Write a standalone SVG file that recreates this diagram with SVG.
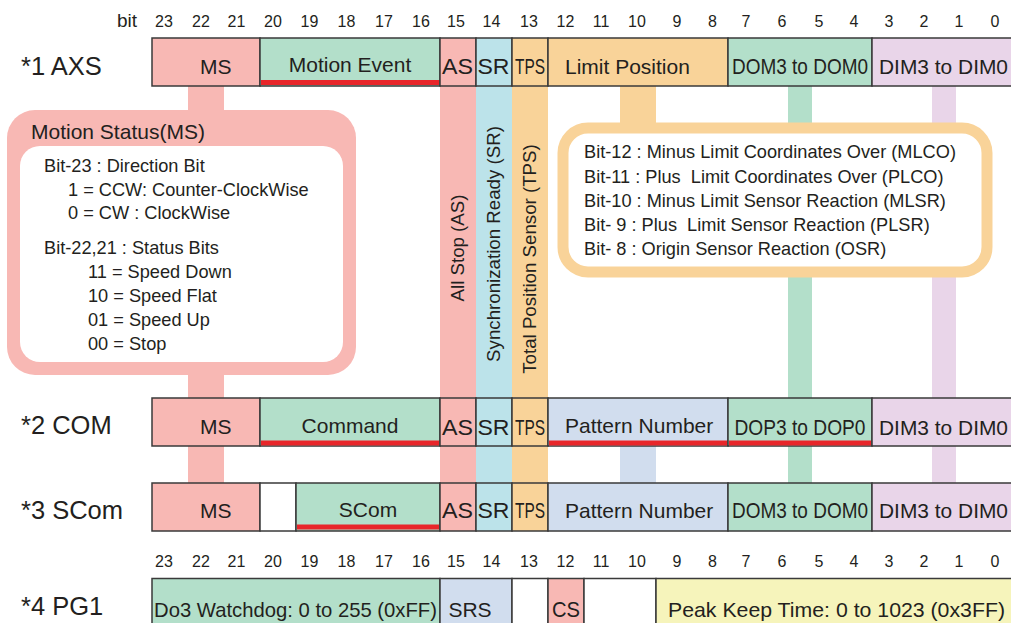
<svg xmlns="http://www.w3.org/2000/svg" width="1011" height="623" viewBox="0 0 1011 623">
<style>
text { font-family: "Liberation Sans", Arial, Helvetica, sans-serif; fill: #231f20; }
.bit { font-size: 16px; text-anchor: middle; }
.row { font-size: 25.5px; }
.f { font-size: 21px; }
.c { font-size: 22px; }
.m { text-anchor: middle; }
.v { font-size: 18.7px; text-anchor: middle; }
.d { font-size: 18.2px; }
.cell { stroke: #3a3a3a; stroke-width: 1.5; }
.pink { fill: #f8b8b4; }
.green { fill: #b3dfca; }
.blue { fill: #bce3ea; }
.orange { fill: #f9d399; }
.lav { fill: #e9d5e9; }
.pat { fill: #d1ddee; }
.yel { fill: #f6f4bb; }
.white { fill: #ffffff; }
.red { fill: #e8262a; }
</style>

<g id="connectors">
  <rect x="188" y="86" width="36" height="397" class="pink"/>
  <rect x="440" y="86" width="36" height="397" class="pink"/>
  <rect x="476" y="86" width="36" height="397" class="blue"/>
  <rect x="512" y="86" width="36" height="397" class="orange"/>
  <rect x="620" y="86" width="36" height="40" class="orange"/>
  <rect x="788" y="86" width="24" height="312" class="green"/>
  <rect x="932" y="86" width="24" height="312" class="lav"/>
  <rect x="620" y="446" width="36" height="37" class="pat"/>
  <rect x="788" y="446" width="24" height="37" class="green"/>
  <rect x="932" y="446" width="24" height="37" class="lav"/>
  <text class="v" transform="translate(464,248) rotate(-90)">All Stop (AS)</text>
  <text class="v" transform="translate(500,244) rotate(-90)">Synchronization Ready (SR)</text>
  <text class="v" transform="translate(536,259) rotate(-90)">Total Position Sensor (TPS)</text>
</g>

<g id="bit-header-top">
  <text x="127" y="27" style="font-size:19px;text-anchor:middle">bit</text>
  <text class="bit" x="164" y="27">23</text>
  <text class="bit" x="201" y="27">22</text>
  <text class="bit" x="236.5" y="27">21</text>
  <text class="bit" x="273" y="27">20</text>
  <text class="bit" x="309.5" y="27">19</text>
  <text class="bit" x="346.5" y="27">18</text>
  <text class="bit" x="384" y="27">17</text>
  <text class="bit" x="421" y="27">16</text>
  <text class="bit" x="456" y="27">15</text>
  <text class="bit" x="491.5" y="27">14</text>
  <text class="bit" x="529" y="27">13</text>
  <text class="bit" x="565.5" y="27">12</text>
  <text class="bit" x="601" y="27">11</text>
  <text class="bit" x="637" y="27">10</text>
  <text class="bit" x="677" y="27">9</text>
  <text class="bit" x="712.5" y="27">8</text>
  <text class="bit" x="746" y="27">7</text>
  <text class="bit" x="782" y="27">6</text>
  <text class="bit" x="819" y="27">5</text>
  <text class="bit" x="854" y="27">4</text>
  <text class="bit" x="889" y="27">3</text>
  <text class="bit" x="924" y="27">2</text>
  <text class="bit" x="959" y="27">1</text>
  <text class="bit" x="995" y="27">0</text>
</g>

<g id="row1-axs">
  <text class="row" x="21" y="75">*1 AXS</text>
  <rect class="cell pink" x="152" y="38" width="108" height="48"/>
  <rect class="cell green" x="260" y="38" width="180" height="48"/>
  <rect class="red" x="261" y="80" width="178" height="5"/>
  <rect class="cell pink" x="440" y="38" width="36" height="48"/>
  <rect class="cell blue" x="476" y="38" width="36" height="48"/>
  <rect class="cell orange" x="512" y="38" width="36" height="48"/>
  <rect class="cell orange" x="548" y="38" width="180" height="48"/>
  <rect class="cell green" x="728" y="38" width="144" height="48"/>
  <rect class="cell lav" x="872" y="38" width="144" height="48"/>
  <text class="f" x="200" y="74">MS</text>
  <text class="f m" x="350" y="71.5">Motion Event</text>
  <text class="c m" x="457.5" y="74" textLength="31" lengthAdjust="spacingAndGlyphs">AS</text>
  <text class="c m" x="493.5" y="74" textLength="32" lengthAdjust="spacingAndGlyphs">SR</text>
  <text class="c m" x="530" y="74" textLength="30" lengthAdjust="spacingAndGlyphs">TPS</text>
  <text class="f" x="565" y="74">Limit Position</text>
  <text class="c m" x="800" y="74" textLength="136" lengthAdjust="spacingAndGlyphs">DOM3 to DOM0</text>
  <text class="f" x="879" y="74" textLength="129" lengthAdjust="spacingAndGlyphs">DIM3 to DIM0</text>
</g>

<g id="motion-status">
  <rect x="7" y="110" width="349" height="265" rx="28" class="pink"/>
  <rect x="20" y="146" width="323" height="216" rx="20" class="white"/>
  <text x="31" y="139" style="font-size:21px">Motion Status(MS)</text>
  <text class="d" x="44" y="172">Bit-23 : Direction Bit</text>
  <text class="d" x="68" y="195.5">1 = CCW: Counter-ClockWise</text>
  <text class="d" x="68" y="218.5">0 = CW : ClockWise</text>
  <text class="d" x="44" y="254">Bit-22,21 : Status Bits</text>
  <text class="d" x="88" y="278">11 = Speed Down</text>
  <text class="d" x="88" y="302">10 = Speed Flat</text>
  <text class="d" x="88" y="326">01 = Speed Up</text>
  <text class="d" x="88" y="350">00 = Stop</text>
</g>

<g id="limit-position">
  <rect x="563" y="128" width="424" height="144" rx="25" class="white" stroke="#f9d399" stroke-width="11"/>
  <text class="d" x="584" y="158" xml:space="preserve">Bit-12 : Minus Limit Coordinates Over (MLCO)</text>
  <text class="d" x="584" y="182.5" xml:space="preserve">Bit-11 : Plus  Limit Coordinates Over (PLCO)</text>
  <text class="d" x="584" y="206.5" xml:space="preserve">Bit-10 : Minus Limit Sensor Reaction (MLSR)</text>
  <text class="d" x="584" y="230.5" xml:space="preserve">Bit- 9 : Plus  Limit Sensor Reaction (PLSR)</text>
  <text class="d" x="584" y="255" xml:space="preserve">Bit- 8 : Origin Sensor Reaction (OSR)</text>
</g>

<g id="row2-com">
  <text class="row" x="21" y="434">*2 COM</text>
  <rect class="cell pink" x="152" y="398" width="108" height="48"/>
  <rect class="cell green" x="260" y="398" width="180" height="48"/>
  <rect class="red" x="261" y="440.5" width="178" height="5"/>
  <rect class="cell pink" x="440" y="398" width="36" height="48"/>
  <rect class="cell blue" x="476" y="398" width="36" height="48"/>
  <rect class="cell orange" x="512" y="398" width="36" height="48"/>
  <rect class="cell pat" x="548" y="398" width="180" height="48"/>
  <rect class="red" x="549" y="440.5" width="178" height="5"/>
  <rect class="cell green" x="728" y="398" width="144" height="48"/>
  <rect class="red" x="729" y="440.5" width="142" height="5"/>
  <rect class="cell lav" x="872" y="398" width="144" height="48"/>
  <text class="f" x="200" y="434">MS</text>
  <text class="f m" x="350" y="432.5">Command</text>
  <text class="c m" x="457.5" y="435" textLength="31" lengthAdjust="spacingAndGlyphs">AS</text>
  <text class="c m" x="493.5" y="435" textLength="32" lengthAdjust="spacingAndGlyphs">SR</text>
  <text class="c m" x="530" y="435" textLength="30" lengthAdjust="spacingAndGlyphs">TPS</text>
  <text class="f" x="565" y="433">Pattern Number</text>
  <text class="c m" x="800" y="435" textLength="131" lengthAdjust="spacingAndGlyphs">DOP3 to DOP0</text>
  <text class="f" x="879" y="435" textLength="129" lengthAdjust="spacingAndGlyphs">DIM3 to DIM0</text>
</g>

<g id="row3-scom">
  <text class="row" x="21" y="519">*3 SCom</text>
  <rect class="cell pink" x="152" y="483" width="108" height="48"/>
  <rect class="cell white" x="260" y="483" width="36" height="48"/>
  <rect class="cell green" x="296" y="483" width="144" height="48"/>
  <rect class="red" x="297" y="524.5" width="142" height="5"/>
  <rect class="cell pink" x="440" y="483" width="36" height="48"/>
  <rect class="cell blue" x="476" y="483" width="36" height="48"/>
  <rect class="cell orange" x="512" y="483" width="36" height="48"/>
  <rect class="cell pat" x="548" y="483" width="180" height="48"/>
  <rect class="cell green" x="728" y="483" width="144" height="48"/>
  <rect class="cell lav" x="872" y="483" width="144" height="48"/>
  <text class="f" x="200" y="518">MS</text>
  <text class="f m" x="368" y="516.5">SCom</text>
  <text class="c m" x="457.5" y="518" textLength="31" lengthAdjust="spacingAndGlyphs">AS</text>
  <text class="c m" x="493.5" y="518" textLength="32" lengthAdjust="spacingAndGlyphs">SR</text>
  <text class="c m" x="530" y="518" textLength="30" lengthAdjust="spacingAndGlyphs">TPS</text>
  <text class="f" x="565" y="518">Pattern Number</text>
  <text class="c m" x="800" y="518" textLength="136" lengthAdjust="spacingAndGlyphs">DOM3 to DOM0</text>
  <text class="f" x="879" y="518" textLength="129" lengthAdjust="spacingAndGlyphs">DIM3 to DIM0</text>
</g>

<g id="bit-header-bottom">
  <text class="bit" x="164" y="567">23</text>
  <text class="bit" x="201" y="567">22</text>
  <text class="bit" x="236.5" y="567">21</text>
  <text class="bit" x="273" y="567">20</text>
  <text class="bit" x="309.5" y="567">19</text>
  <text class="bit" x="346.5" y="567">18</text>
  <text class="bit" x="384" y="567">17</text>
  <text class="bit" x="421" y="567">16</text>
  <text class="bit" x="456" y="567">15</text>
  <text class="bit" x="491.5" y="567">14</text>
  <text class="bit" x="529" y="567">13</text>
  <text class="bit" x="565.5" y="567">12</text>
  <text class="bit" x="601" y="567">11</text>
  <text class="bit" x="637" y="567">10</text>
  <text class="bit" x="677" y="567">9</text>
  <text class="bit" x="712.5" y="567">8</text>
  <text class="bit" x="746" y="567">7</text>
  <text class="bit" x="782" y="567">6</text>
  <text class="bit" x="819" y="567">5</text>
  <text class="bit" x="854" y="567">4</text>
  <text class="bit" x="889" y="567">3</text>
  <text class="bit" x="924" y="567">2</text>
  <text class="bit" x="959" y="567">1</text>
  <text class="bit" x="995" y="567">0</text>
</g>

<g id="row4-pg1">
  <text class="row" x="21" y="615">*4 PG1</text>
  <rect class="cell green" x="152" y="578.5" width="288" height="60"/>
  <rect class="cell pat" x="440" y="578.5" width="72" height="60"/>
  <rect class="cell white" x="512" y="578.5" width="36" height="60"/>
  <rect class="cell pink" x="548" y="578.5" width="36" height="60"/>
  <rect class="cell white" x="584" y="578.5" width="72" height="60"/>
  <rect class="cell yel" x="656" y="578.5" width="360" height="60"/>
  <text class="f" x="154" y="616.5" textLength="283" lengthAdjust="spacingAndGlyphs">Do3 Watchdog: 0 to 255 (0xFF)</text>
  <text class="f m" x="470" y="616.5">SRS</text>
  <text class="c m" x="566" y="616.5" textLength="28" lengthAdjust="spacingAndGlyphs">CS</text>
  <text class="f" x="668" y="616.5" textLength="337" lengthAdjust="spacingAndGlyphs">Peak Keep Time: 0 to 1023 (0x3FF)</text>
</g>
</svg>
